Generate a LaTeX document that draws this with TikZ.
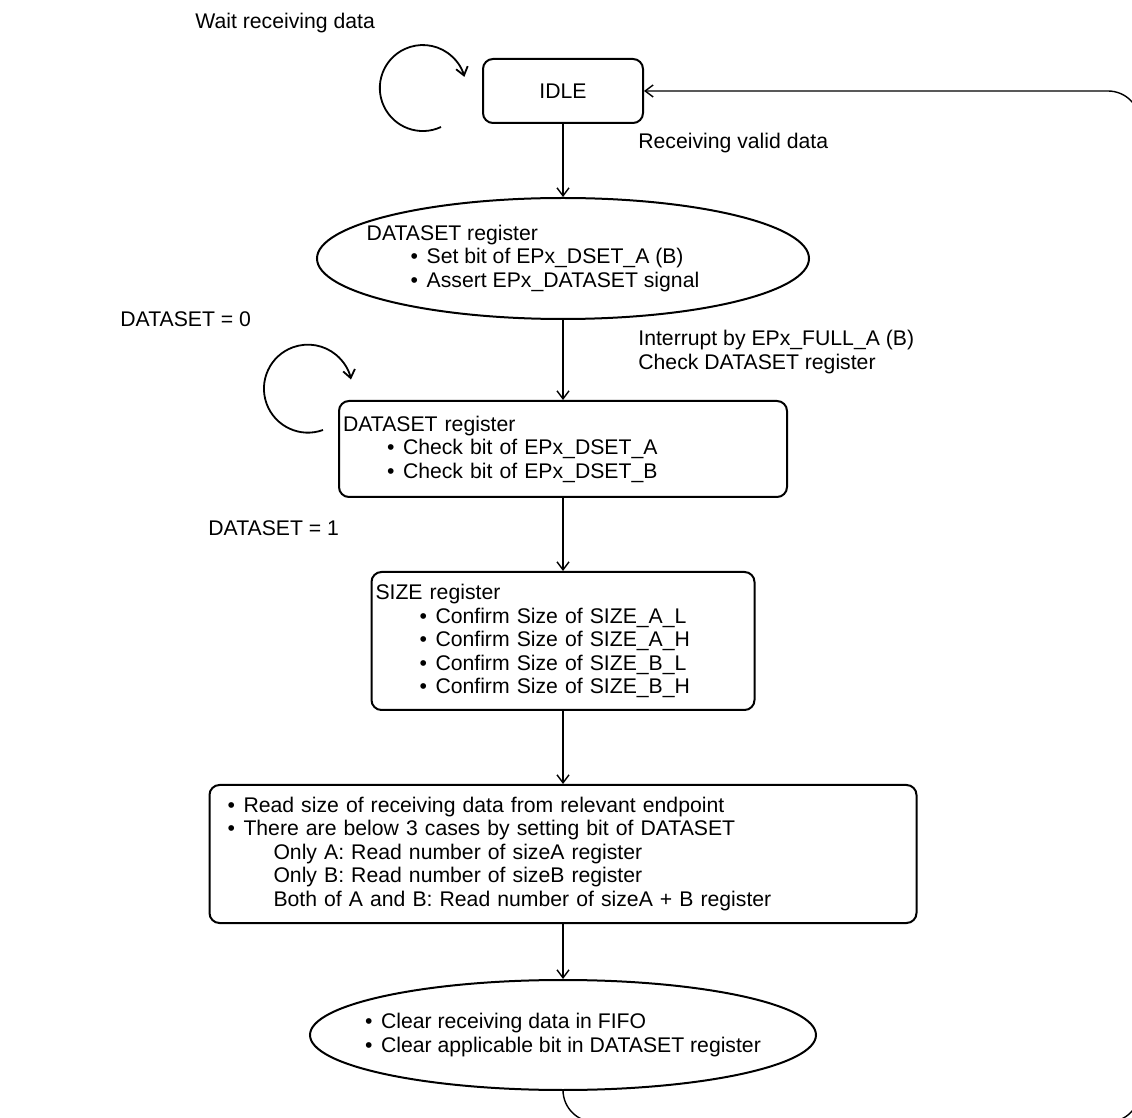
\documentclass[tikz,border=0pt]{standalone}
\usepackage{fontspec}
\setmainfont{Liberation Sans}
\usetikzlibrary{arrows.meta, positioning, shapes.geometric}

\newcommand{\bitem}[2][22pt]{\hspace*{#1}\textbullet\hspace{4.3pt}#2}

\begin{document}
\begin{tikzpicture}[
        x = 0.5pt, y = 0.5pt, on grid,
        >= {Straight Barb[length = 4pt, width = 6pt]},
        every node/.style = {font = \fontsize{10.6}{11.75}\selectfont},
        stbox/.style = {draw, line width = 1pt, rounded corners = 5pt, inner sep = 2pt, align = left},
        stell/.style = {draw, ellipse, line width = 1pt, align = left},
        lbl/.style = {anchor = west, align = left, inner sep = 0pt},
        flow/.style = {->, line width = 0.7pt},
        selfloop/.style = {->, line width = 0.9pt}
    ]
      \useasboundingbox (0,0) rectangle (1132,-1118);

      \node[stbox, align = center, minimum width = 80pt, minimum height = 32pt] (idle) at (563,-91) {IDLE};
      \node[stell, inner xsep = -13pt, minimum width = 246pt, minimum height = 60.5pt, below = 83.75pt of idle] (dsset)
        {DATASET register\\ \bitem{Set bit of EPx\_DSET\_A (B)}\\ \bitem{Assert EPx\_DATASET signal}\hspace*{30pt}};
      \node[stbox, text width = 220pt, minimum height = 48pt, below = 95.25pt of dsset] (dscheck)
        {DATASET register\\ \bitem{Check bit of EPx\_DSET\_A}\\ \bitem{Check bit of EPx\_DSET\_B}};
      \node[stbox, text width = 187.5pt, minimum height = 69pt, below = 96pt of dscheck] (sizechk)
        {SIZE register\\ \bitem{Confirm Size of SIZE\_A\_L}\\ \bitem{Confirm Size of SIZE\_A\_H}\\
         \bitem{Confirm Size of SIZE\_B\_L}\\ \bitem{Confirm Size of SIZE\_B\_H}};
      \node[stbox, text width = 349.5pt, minimum height = 69pt, below = 106.5pt of sizechk] (readsz)
        {\bitem[7pt]{Read size of receiving data from relevant endpoint}\\
         \bitem[7pt]{There are below 3 cases by setting bit of DATASET}\\
         \hspace*{30pt}Only A: Read number of sizeA register\\
         \hspace*{30pt}Only B: Read number of sizeB register\\
         \hspace*{30pt}Both of A and B: Read number of sizeA + B register};
      \node[stell, inner xsep = -14pt, minimum width = 253pt, minimum height = 55pt, below = 90.5pt of readsz] (clear)
        {\bitem[0pt]{Clear receiving data in FIFO}\\ \bitem[0pt]{Clear applicable bit in DATASET register}};

      % labels
      \node[lbl] (waitlbl) at (195,-23) {Wait receiving data};
      \node[lbl] (rcvlbl) at (638,-143) {Receiving valid data};
      \node[lbl] (ds0lbl) at (120,-319) {DATASET = 0};
      \node[lbl] (irqlbl) at (638,-352) {Interrupt by EPx\_FULL\_A (B)\\ Check DATASET register};
      \node[lbl] (ds1lbl) at (208,-528) {DATASET = 1};

      \path[flow] (idle) edge (dsset)
                  (dsset) edge (dscheck)
                  (dscheck) edge (sizechk)
                  (sizechk) edge (readsz)
                  (readsz) edge (clear);

      % back to IDLE
      \coordinate (retcorner) at (1140,-1122);
      \draw[flow, rounded corners = 16pt] (clear.south) |- (retcorner) |- (idle.east);

      % waiting loops
      \coordinate (idleloop) at (441,-127);
      \coordinate (dsloop) at (323,-430);
      \draw[selfloop] (idleloop) arc[start angle = -65, end angle = -345, radius = 21.5pt];
      \draw[selfloop] (dsloop) arc[start angle = -70, end angle = -348, radius = 22pt];
    \end{tikzpicture}
\end{document}
